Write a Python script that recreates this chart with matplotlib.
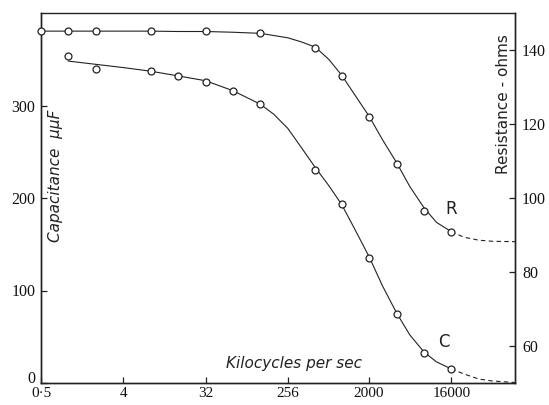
import matplotlib
matplotlib.use("Agg")
import matplotlib.pyplot as plt
from matplotlib.ticker import FixedLocator, FixedFormatter, NullLocator
from matplotlib.transforms import ScaledTranslation

# frequency ticks (kc/s) on an octave-type axis
freq_ticks = [0.5, 4, 32, 256, 2000, 16000]
freq_tick_labels = ["0·5", "4", "32", "256", "2000", "16000"]
cap_ticks = [0, 100, 200, 300]
res_ticks = [60, 80, 100, 120, 140]

cap_freq = [1, 2, 8, 16, 32, 64, 128, 512, 1000, 2000, 4000, 8000, 16000]
cap_vals = [353.4, 339.3, 337.1, 331.7, 325.2, 315.4, 301.4, 229.8, 193.0, 135.5, 74.8, 32.5, 15.2]

res_freq = [0.5, 1, 2, 8, 32, 128, 512, 1000, 2000, 4000, 8000, 16000]
res_vals = [145.1, 145.1, 145.1, 145.1, 145.2, 144.6, 140.5, 132.9, 121.8, 109.3, 96.6, 90.9]

# the smooth curves drawn through them (solid part, then dashed extrapolation)
cap_curve_freq = [1, 2, 4, 8, 16, 32, 64, 128, 180, 256, 360, 512, 720, 1000,
                  1400, 2000, 2800, 4000, 5600, 8000, 11000, 16000]
cap_curve_vals = [348, 344.5, 341, 337.1, 332, 326.8, 316, 301.4, 290.5, 275.3, 254.7, 233.1,
                  213.6, 193.0, 165.9, 136.6, 105.2, 75.9, 52.0, 33.6, 22.8, 15.2]
cap_tail_freq = [16000, 22000, 32000, 45000, 80000]
cap_tail_vals = [15.2, 9.8, 4.3, 2.2, 0.5]

res_curve_freq = [0.5, 1, 2, 4, 8, 16, 32, 64, 128, 256, 360, 512, 720, 1000,
                  1400, 2000, 2800, 4000, 5600, 8000, 11000, 16000]
res_curve_vals = [145.1, 145.1, 145.1, 145.1, 145.1, 145.0, 145.0, 144.8, 144.5, 143.3, 142.2,
                  140.8, 137.5, 133.2, 127.8, 122.1, 115.8, 109.6, 103.1, 97.4, 93.4, 90.9]
res_tail_freq = [16000, 22000, 32000, 45000, 80000]
res_tail_vals = [90.9, 89.4, 88.6, 88.3, 88.2]

serif = ["Liberation Serif", "DejaVu Serif"]

fig = plt.figure(figsize=(5.49, 4.05), dpi=100)
ax = fig.add_axes([41 / 549, 1 - 383 / 405, 474 / 549, 370 / 405])
ax2 = ax.twinx()

line_kw = dict(color="#222222", lw=0.8)
mark_kw = dict(ls="none", marker="o", ms=5, mfc="white", mec="#222222", mew=0.9)

ax.plot(cap_curve_freq, cap_curve_vals, **line_kw)
ax.plot(cap_tail_freq, cap_tail_vals, ls=(0, (4, 3)), color="#222222", lw=0.8)
ax.plot(cap_freq, cap_vals, zorder=3, **mark_kw)

ax2.plot(res_curve_freq, res_curve_vals, **line_kw)
ax2.plot(res_tail_freq, res_tail_vals, ls=(0, (4, 3)), color="#222222", lw=0.8)
ax2.plot(res_freq, res_vals, zorder=3, clip_on=False, **mark_kw)

ax.set_xscale("log", base=2)
ax.set_xlim(0.5, 80000)
ax.set_ylim(0, 400)
ax2.set_ylim(50, 150)

ax.xaxis.set_major_locator(FixedLocator(freq_ticks))
ax.xaxis.set_major_formatter(FixedFormatter(freq_tick_labels))
ax.xaxis.set_minor_locator(NullLocator())
ax.set_yticks(cap_ticks)
ax2.set_yticks(res_ticks)

for a in (ax, ax2):
    a.tick_params(direction="in", length=4, width=0.9, color="#222222",
                  labelsize=11.5, labelcolor="#111111")
    for lab in a.get_xticklabels() + a.get_yticklabels():
        lab.set_family(serif)
    for sp in a.spines.values():
        sp.set_linewidth(1.0)
        sp.set_color("#222222")
ax.tick_params(axis="x", pad=3, labelsize=11)
ax.tick_params(axis="y", pad=4)
ax2.tick_params(axis="y", pad=5)
ax.spines["top"].set_linewidth(0.7)

# nudge the "0" label up a touch so it clears "0·5" below it
zero_lab = ax.yaxis.get_major_ticks()[0].label1
zero_lab.set_transform(zero_lab.get_transform() + ScaledTranslation(0, 4 / 72, fig.dpi_scale_trans))

lbl = dict(color="#222222", fontsize=11, family="DejaVu Sans")
ax.text(0.533, 0.052, "Kilocycles per sec", transform=ax.transAxes, ha="center", va="center",
        style="italic", **lbl)
ax.text(0.030, 0.56, "Capacitance  μμF", transform=ax.transAxes, ha="center", va="center",
        rotation=90, style="italic", **lbl)
ax.text(0.975, 0.754, "Resistance - ohms", transform=ax.transAxes, ha="center", va="center",
        rotation=90, **lbl)
ax.text(0.865, 0.47, "R", transform=ax.transAxes, ha="center", va="center", fontsize=12,
        color="#222222")
ax.text(0.85, 0.111, "C", transform=ax.transAxes, ha="center", va="center", fontsize=12,
        color="#222222")

fig.savefig("out.png", dpi=100)
